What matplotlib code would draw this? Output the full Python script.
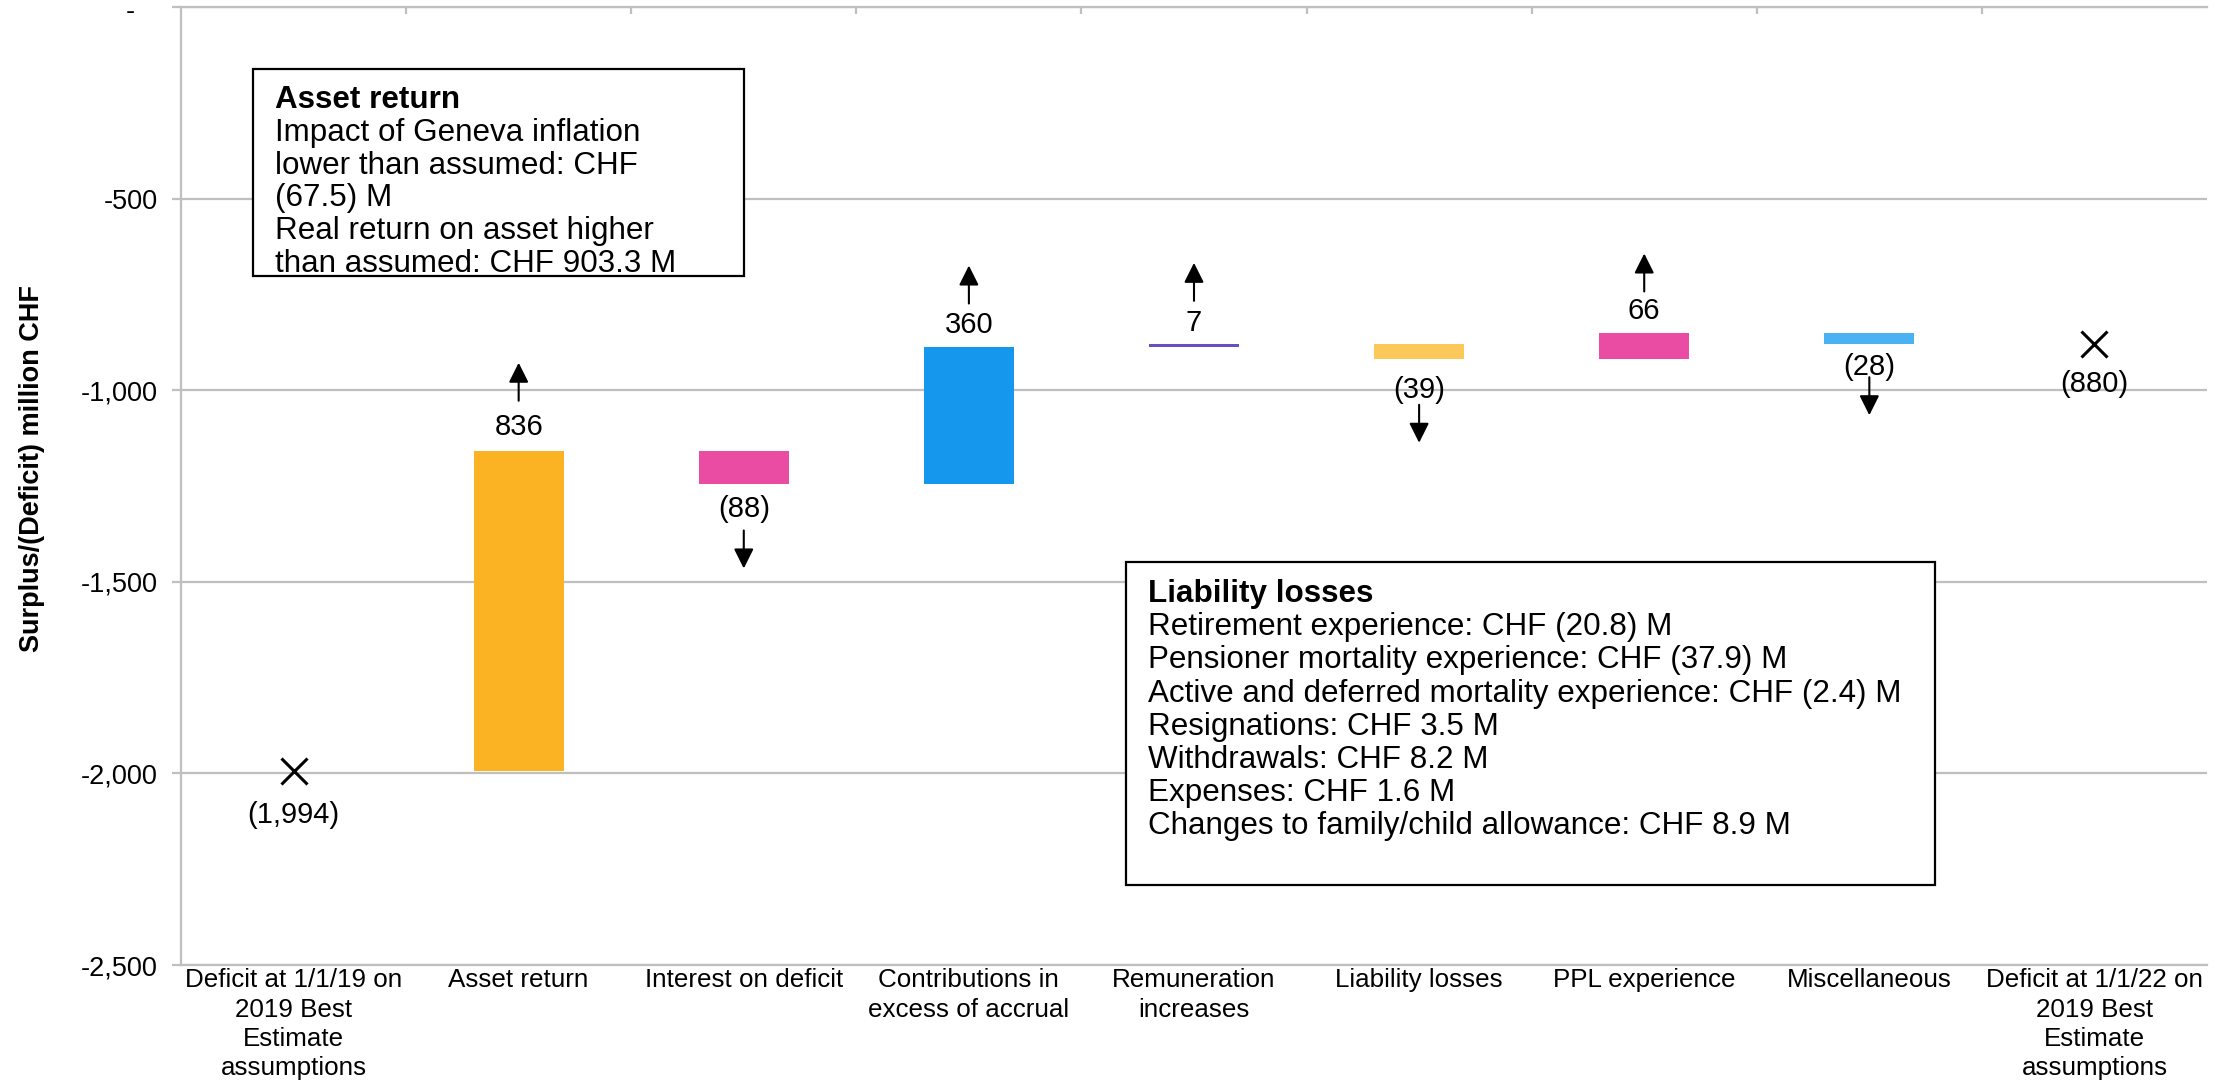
import matplotlib
matplotlib.use("Agg")
import matplotlib.pyplot as plt
from matplotlib.patches import Rectangle
from matplotlib.transforms import offset_copy
from matplotlib.ticker import FuncFormatter

# ---- data -------------------------------------------------------------
categories = [
    "Deficit at 1/1/19 on\n2019 Best\nEstimate\nassumptions",
    "Asset return",
    "Interest on deficit",
    "Contributions in\nexcess of accrual",
    "Remuneration\nincreases",
    "Liability losses",
    "PPL experience",
    "Miscellaneous",
    "Deficit at 1/1/22 on\n2019 Best\nEstimate\nassumptions",
]
opening_deficit = -1994
movements = [836, -88, 360, 7, -39, 66, -28]
closing_deficit = -880

y_ticks = [-2500, -2000, -1500, -1000, -500, 0]

asset_notes = [
    "Asset return",
    "Impact of Geneva inflation",
    "lower than assumed: CHF",
    "(67.5) M",
    "Real return on asset higher",
    "than assumed: CHF 903.3 M",
]
liability_notes = [
    "Liability losses",
    "Retirement experience: CHF (20.8) M",
    "Pensioner mortality experience: CHF (37.9) M",
    "Active and deferred mortality experience: CHF (2.4) M",
    "Resignations: CHF 3.5 M",
    "Withdrawals: CHF 8.2 M",
    "Expenses: CHF 1.6 M",
    "Changes to family/child allowance: CHF 8.9 M",
]

# ---- style ------------------------------------------------------------
movement_colors = ["#FBB323", "#EA4CA4", "#1597EE", "#6A4FC0",
                   "#FCC85A", "#EA4CA4", "#4AB2F2"]
GRID = "#BFBFBF"
label_gap_px = [24, 25, 22, 21, 31, 22, 23]    # bar edge -> value label centre
arrow_tail_px = [26, 21, 21, 22, 15, 20, 10]   # value label centre -> arrow start
arrow_len_px = 38
total_gap_px = [44, 40]

W, H, DPI = 2215, 1081, 100
plt.rcParams["font.family"] = ["Liberation Sans", "DejaVu Sans"]

fig = plt.figure(figsize=(W / DPI, H / DPI), dpi=DPI)


def px_rect(x0, y0, x1, y1):
    return [x0 / W, 1 - y1 / H, (x1 - x0) / W, (y1 - y0) / H]


ax = fig.add_axes(px_rect(181, 7, 2207, 965))

n = len(categories)
levels = [opening_deficit]
for m in movements:
    levels.append(levels[-1] + m)

# floating bars for each movement
for i, m in enumerate(movements):
    ax.bar(i + 1, m, bottom=levels[i], width=0.4,
           color=movement_colors[i], zorder=3, linewidth=0)

# opening / closing positions as crosses
totals = [opening_deficit, closing_deficit]
ax.plot([0, n - 1], totals, linestyle="none", marker="x", ms=19, mew=2.2,
        color="black", zorder=4)


def fmt(v):
    return f"{v:,}" if v >= 0 else f"({-v:,})"


def shifted(dy):
    return offset_copy(ax.transData, fig=fig, x=0, y=dy, units="dots")


# value labels and direction arrows
for i, m in enumerate(movements):
    x = i + 1
    edge = levels[i + 1]
    d = 1 if m > 0 else -1
    g = label_gap_px[i]
    ax.text(x, edge, fmt(m), transform=shifted(d * g), ha="center",
            va="center", fontsize=21, zorder=5)
    t0 = d * (g + arrow_tail_px[i])
    t1 = d * (g + arrow_tail_px[i] + arrow_len_px)
    ax.annotate("", xy=(x, edge), xycoords=shifted(t1),
                xytext=(x, edge), textcoords=shifted(t0),
                arrowprops=dict(arrowstyle="-|>,head_length=0.6,head_width=0.3",
                                mutation_scale=20, color="black", lw=1.5,
                                shrinkA=0, shrinkB=0), zorder=5)

for x, v, g in zip([0, n - 1], totals, total_gap_px):
    ax.text(x, v, fmt(v), transform=shifted(-g), ha="center", va="center",
            fontsize=21, zorder=5)

# axes
ax.set_xlim(-0.5, n - 0.5)
ax.set_ylim(y_ticks[0], y_ticks[-1])
ax.set_yticks(y_ticks)
ax.yaxis.set_major_formatter(FuncFormatter(lambda v, _: "" if v == 0 else f"{v:,.0f}"))
ax.annotate("-", xy=(0, 0), xycoords=("axes fraction", "data"),
            xytext=(-51, -5), textcoords="offset pixels", ha="center",
            va="center", fontsize=19.5, annotation_clip=False)
ax.yaxis.grid(True, color=GRID, linewidth=1.6, zorder=0)
ax.set_axisbelow(True)

for side in ["left", "top", "bottom"]:
    ax.spines[side].set_color(GRID)
    ax.spines[side].set_linewidth(1.6)
ax.spines["right"].set_visible(False)

ax.tick_params(axis="y", direction="out", length=6.5, width=1.6, color=GRID,
               pad=10, labelsize=19.5, labelcolor="black")

ax.set_xticks(range(n))
ax.set_xticklabels(categories, fontsize=18.7, linespacing=1.27)
ax.tick_params(axis="x", which="major", length=0, pad=2.5)
ax.set_xticks([i + 0.5 for i in range(n - 1)], minor=True)
ax.tick_params(axis="x", which="minor", bottom=False, top=True,
               direction="in", length=5, width=1.6, color=GRID)

fig.text(32 / W, 1 - 468 / H, "Surplus/(Deficit) million CHF", rotation=90,
         ha="center", va="center", fontsize=19.5, fontweight="bold")


# annotation boxes
def note_box(x0, y0, x1, y1, lines, tx, first_y, step):
    fig.add_artist(Rectangle((x0 / W, 1 - y1 / H), (x1 - x0) / W, (y1 - y0) / H,
                             transform=fig.transFigure, facecolor="white",
                             edgecolor="black", linewidth=1.6, zorder=5))
    for k, line in enumerate(lines):
        fig.text(tx / W, 1 - (first_y + k * step) / H, line, ha="left",
                 va="center", fontsize=22.6, zorder=6,
                 fontweight="bold" if k == 0 else "normal")


note_box(253, 69, 744, 276, asset_notes, 275, 100, 32.8)
note_box(1126, 562, 1935, 885, liability_notes, 1148, 594, 33.2)

fig.savefig("out.png", dpi=DPI)
